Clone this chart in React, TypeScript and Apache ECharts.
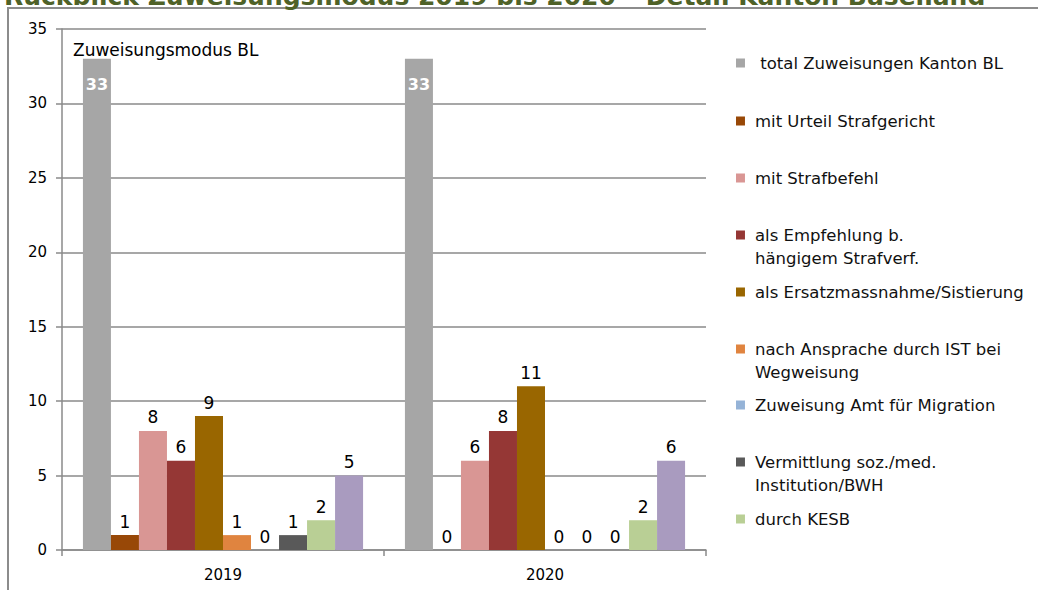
import React, { useEffect, useRef } from "react";
import * as echarts from "echarts";

const categories = ["2019", "2020"];

const seriesNames = [
  " total Zuweisungen Kanton BL",
  "mit Urteil Strafgericht",
  "mit Strafbefehl",
  "als Empfehlung b.\nhängigem Strafverf.",
  "als Ersatzmassnahme/Sistierung",
  "nach Ansprache durch IST bei\nWegweisung",
  "Zuweisung Amt für Migration",
  "Vermittlung soz./med.\nInstitution/BWH",
  "durch KESB",
  "weitere",
];

const totalValues = [33, 33];
const urteilValues = [1, 0];
const strafbefehlValues = [8, 6];
const empfehlungValues = [6, 8];
const ersatzValues = [9, 11];
const anspracheValues = [1, 0];
const migrationValues = [0, 0];
const vermittlungValues = [1, 0];
const kesbValues = [2, 2];
const weitereValues = [5, 6];

const seriesValues = [
  totalValues,
  urteilValues,
  strafbefehlValues,
  empfehlungValues,
  ersatzValues,
  anspracheValues,
  migrationValues,
  vermittlungValues,
  kesbValues,
  weitereValues,
];

const seriesColors = [
  "#a6a6a6",
  "#984807",
  "#d99694",
  "#953735",
  "#996600",
  "#e0843f",
  "#95b3d7",
  "#595959",
  "#b9cf95",
  "#a99bbf",
];

const yTicks = [0, 5, 10, 15, 20, 25, 30, 35];

const titleText = "Rückblick Zuweisungsmodus 2019 bis 2020 – Detail Kanton Baselland";
const innerTitle = "Zuweisungsmodus BL";

const FONT = "DejaVu Sans";
const legendCenters = [63, 121, 178, 235, 292, 349, 405, 462, 519];
const iconOne = "path://M0 0H10V10H0Z M15.6 10H15.61";
const iconTwo = "path://M0 0H10V10H0Z M15.6 35.6H15.61";

export default function App() {
  const ref = useRef<HTMLDivElement>(null);

  useEffect(() => {
    document.body.style.margin = "0";
    const chart = echarts.init(ref.current!, null, { renderer: "svg" });

    const series = seriesNames.map((name, i) => ({
      type: "bar",
      name,
      data: seriesValues[i],
      barGap: "0%",
      barCategoryGap: "13%",
      itemStyle: { color: seriesColors[i] },
      label:
        i === 0
          ? {
              show: true,
              position: "insideTop",
              distance: 18,
              color: "#ffffff",
              fontWeight: "bold",
              fontSize: 16,
              fontFamily: FONT,
            }
          : {
              show: true,
              position: "top",
              distance: 5,
              color: "#000000",
              fontSize: 17,
              fontFamily: FONT,
            },
    }));

    const legends = seriesNames.slice(0, 9).map((name, i) => {
      const two = name.indexOf("\n") >= 0;
      return {
        data: [name],
        orient: "vertical",
        left: 736,
        top: legendCenters[i] - 11.5,
        padding: 0,
        itemWidth: 14,
        itemHeight: two ? 32 : 9,
        icon: two ? iconTwo : iconOne,
        selectedMode: false,
        itemStyle: { borderWidth: 0 },
        textStyle: {
          fontFamily: FONT,
          fontSize: 16.5,
          color: "#111111",
          lineHeight: 23,
        },
      };
    });

    chart.setOption({
      animation: false,
      backgroundColor: "#ffffff",
      grid: { left: 62, right: 332, top: 29, bottom: 40, containLabel: false },
      legend: legends,
      xAxis: {
        type: "category",
        data: categories,
        axisLine: { show: true, lineStyle: { color: "#8a8a8a", width: 1.5 } },
        axisTick: { show: true, length: 6, lineStyle: { color: "#8a8a8a", width: 1.5 } },
        axisLabel: { fontFamily: FONT, fontSize: 15, color: "#000000", margin: 17 },
      },
      yAxis: {
        type: "value",
        min: yTicks[0],
        max: yTicks[yTicks.length - 1],
        interval: 5,
        axisLine: { show: true, lineStyle: { color: "#8a8a8a", width: 1.5 } },
        axisTick: { show: true, length: 6, lineStyle: { color: "#8a8a8a", width: 1.5 } },
        axisLabel: { fontFamily: FONT, fontSize: 15, color: "#000000", margin: 15 },
        splitLine: { show: true, lineStyle: { color: "#8a8a8a", width: 1.5 } },
      },
      graphic: [
        {
          type: "rect",
          z: -10,
          shape: { x: 8, y: 8, width: 1200, height: 800 },
          style: { fill: "none", stroke: "#8c8c8c", lineWidth: 2 },
        },
        {
          type: "text",
          x: 4,
          y: -4,
          style: {
            text: titleText,
            font: `bold 25px ${FONT}`,
            fill: "#4f6228",
            verticalAlign: "middle",
          },
        },
        {
          type: "text",
          x: 73,
          y: 50,
          style: {
            text: innerTitle,
            font: `17px ${FONT}`,
            fill: "#000000",
            verticalAlign: "middle",
          },
        },
      ],
      series,
    });

    return () => chart.dispose();
  }, []);

  return (
    <div
      ref={ref}
      style={{ width: 1038, height: 590, position: "absolute", left: 0, top: 0, overflow: "hidden" }}
    />
  );
}
